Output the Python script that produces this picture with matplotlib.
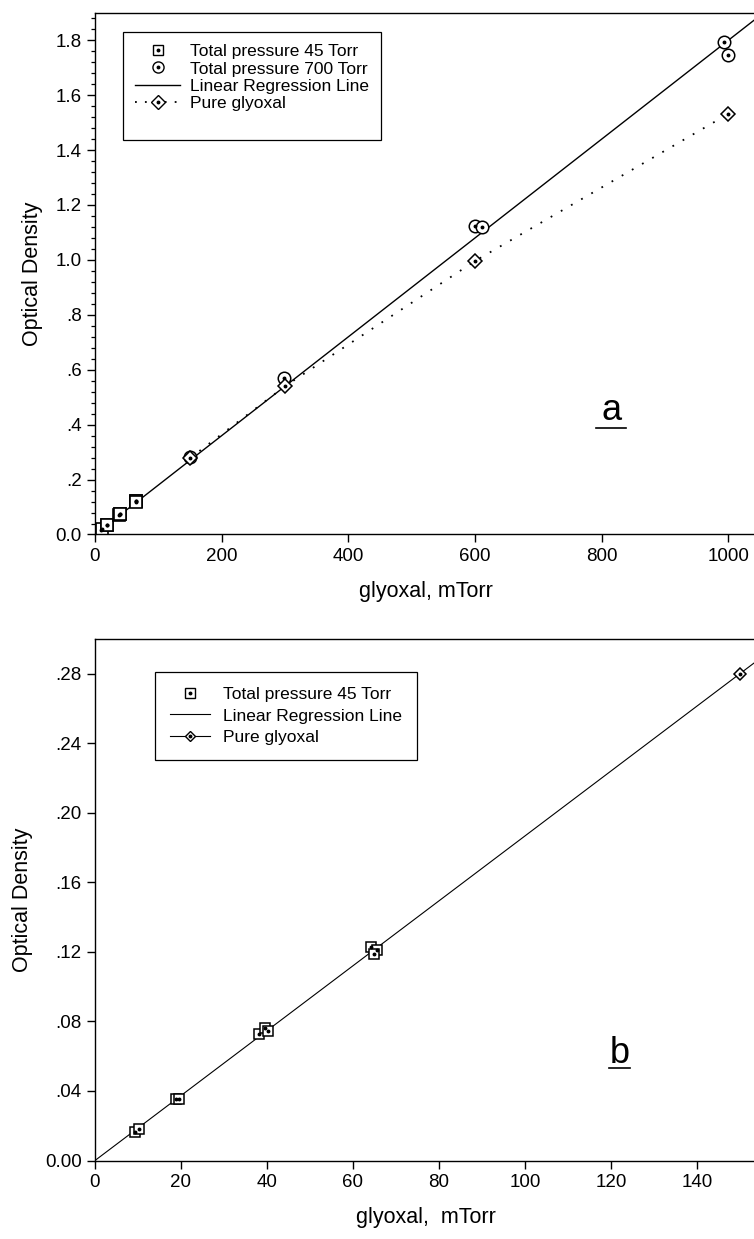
import numpy as np
import matplotlib
matplotlib.use('Agg')
import matplotlib.pyplot as plt
from matplotlib.lines import Line2D
from matplotlib.legend_handler import HandlerTuple
from matplotlib.ticker import MultipleLocator, FuncFormatter

plt.rcParams['font.family'] = ['Liberation Sans', 'DejaVu Sans']

# --- data (glyoxal in mTorr, optical density)
x45 = [9.3, 10.3, 18.9, 19.5, 38.1, 39.5, 40.2, 64.3, 65.5, 65.0]
od45 = [0.0164, 0.0183, 0.0354, 0.0352, 0.0727, 0.0760, 0.0747, 0.1230, 0.1210, 0.1188]
x700 = [150, 298, 600, 611, 993, 1000]
od700 = [0.282, 0.571, 1.124, 1.120, 1.795, 1.745]
xpure = [150, 300, 600, 1000]
odpure = [0.278, 0.540, 0.996, 1.532]
xpure_b = [150]
odpure_b = [0.280]
slope_a = 0.0018      # regression, panel a
slope_b = 0.28 / 150  # regression, panel b

W, H = 754, 1239
fig = plt.figure(figsize=(W / 100, H / 100), dpi=100)
axa = fig.add_axes([95 / W, 1 - 534.5 / H, 662 / W, 521.8 / H])
axb = fig.add_axes([95 / W, 1 - 1160.5 / H, 662 / W, 521.5 / H])

dot = dict(ls='none', marker='o', ms=1.8, color='k', mec='k')

def open_mark(ax, x, y, m, ms, mew=1.1):
    ax.plot(x, y, ls='none', marker=m, ms=ms, mfc='white', mec='k', mew=mew)
    ax.plot(x, y, **dot)

# --- panel a
xa = np.array([0, 1045])
axa.plot(xa, slope_a * xa, 'k-', lw=1.0)
axa.plot(xpure, odpure, color='k', lw=1.3, ls=(0, (1, 5.5)))
open_mark(axa, x45, od45, 's', 8, 1.2)
open_mark(axa, x700, od700, 'o', 9)
open_mark(axa, xpure, odpure, 'D', 7.5)

axa.set_xlim(0, 1045)
axa.set_ylim(0, 1.9)
axa.xaxis.set_major_locator(MultipleLocator(200))
axa.yaxis.set_major_locator(MultipleLocator(0.2))
axa.yaxis.set_minor_locator(MultipleLocator(0.04))
axa.yaxis.set_major_formatter(FuncFormatter(lambda v, p: '0.0' if abs(v) < 1e-9 else
                                            (f'{v:.1f}' if v >= 1 else f'{v:.1f}'[1:])))
axa.set_xlabel('glyoxal, mTorr', fontsize=15.5, labelpad=12)
axa.set_ylabel('Optical Density', fontsize=15.5, labelpad=9)
axa.text(0.78, 0.219, 'a', transform=axa.transAxes, fontsize=26, ha='center', va='baseline')
axa.plot([0.757, 0.802], [0.205, 0.205], transform=axa.transAxes, color='k', lw=1.2)

sq = Line2D([], [], ls='none', marker='s', ms=7, mfc='white', mec='k', mew=1.0)
ci = Line2D([], [], ls='none', marker='o', ms=8, mfc='white', mec='k', mew=1.0)
di = Line2D([], [], ls='none', marker='D', ms=7, mfc='white', mec='k', mew=1.0)
cd = Line2D([], [], **dot)
solid = Line2D([], [], color='k', lw=1.0)
dotted = Line2D([], [], color='k', lw=1.3, ls=(0, (1, 4.5)))
blank = Line2D([], [], ls='none')
leg = axa.legend([(sq, cd), (ci, cd), solid, (dotted, di, cd), blank],
                 ['Total pressure 45 Torr', 'Total pressure 700 Torr',
                  'Linear Regression Line', 'Pure glyoxal', ' '],
                 handler_map={tuple: HandlerTuple(ndivide=1)},
                 loc='upper left', bbox_to_anchor=(0.0425, 0.963), borderaxespad=0,
                 fontsize=12.5, handlelength=2.6, handletextpad=0.57, labelspacing=0.12,
                 borderpad=0.7, fancybox=False, framealpha=1, edgecolor='k', numpoints=1)
leg.get_frame().set_linewidth(0.9)

# --- panel b
xb = np.array([0, 154])
axb.plot(xb, slope_b * xb, 'k-', lw=0.8)
open_mark(axb, x45, od45, 's', 7)
open_mark(axb, xpure_b, odpure_b, 'D', 6)

axb.set_xlim(0, 154)
axb.set_ylim(0, 0.30)
axb.xaxis.set_major_locator(MultipleLocator(20))
axb.yaxis.set_major_locator(MultipleLocator(0.04))
axb.yaxis.set_major_formatter(FuncFormatter(lambda v, p: '0.00' if abs(v) < 1e-9 else f'{v:.2f}'[1:]))
axb.set_xlabel('glyoxal,  mTorr', fontsize=15.5, labelpad=12)
axb.set_ylabel('Optical Density', fontsize=15.5, labelpad=9)
axb.text(0.792, 0.187, 'b', transform=axb.transAxes, fontsize=26, ha='center', va='baseline')
axb.plot([0.776, 0.808], [0.178, 0.178], transform=axb.transAxes, color='k', lw=1.2)

sqb = Line2D([], [], ls='none', marker='s', ms=6.5, mfc='white', mec='k', mew=1.0)
dib = Line2D([], [], ls='-', color='k', lw=0.8, marker='D', ms=5.5, mfc='white', mec='k', mew=1.0)
solidb = Line2D([], [], color='k', lw=0.8)
legb = axb.legend([(sqb, cd), solidb, (dib, cd)],
                  ['Total pressure 45 Torr', 'Linear Regression Line', 'Pure glyoxal'],
                  handler_map={tuple: HandlerTuple(ndivide=1)},
                  loc='upper left', bbox_to_anchor=(0.091, 0.937), borderaxespad=0,
                  fontsize=12.5, handlelength=2.3, handletextpad=0.75, labelspacing=0.38,
                  borderpad=0.85, fancybox=False, framealpha=1, edgecolor='k', numpoints=1)
legb.get_frame().set_linewidth(0.9)

for ax in (axa, axb):
    for s in ax.spines.values():
        s.set_linewidth(1.0)
    ax.tick_params(which='major', direction='out', length=5.5, width=1.0, labelsize=13.5, pad=4)
    ax.tick_params(which='minor', direction='out', length=3, width=0.9)

fig.savefig('out.png', dpi=100)
